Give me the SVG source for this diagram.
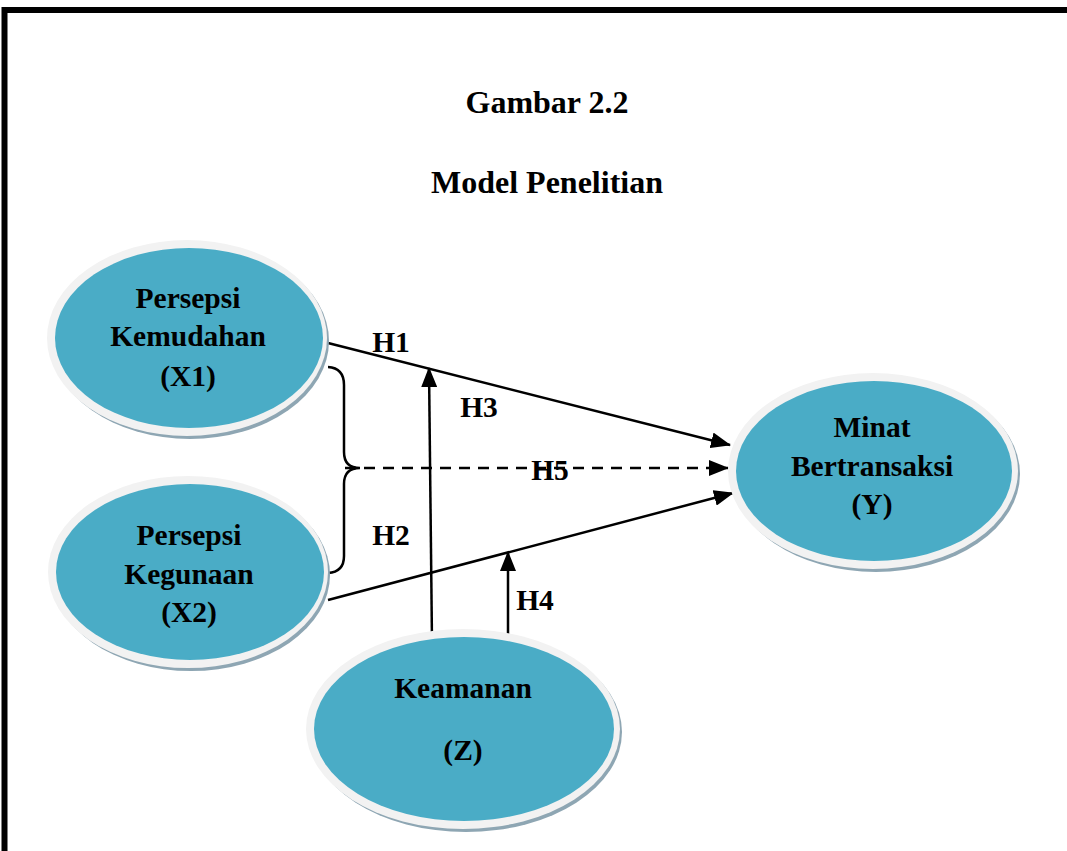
<svg xmlns="http://www.w3.org/2000/svg" width="1067" height="851" viewBox="0 0 1067 851">
<defs>
<style>
.t{font-family:"Liberation Serif","Times New Roman",serif;font-weight:bold;font-size:29.5px;fill:#000;text-anchor:middle}
.ti{font-size:32px}
.sh{fill:#8ea6b3}
.rim{fill:#f2f2f2}
.in{fill:#4aacc6}
.ln{stroke:#000;stroke-width:2.5;fill:none}
</style>
<marker id="a" markerWidth="20" markerHeight="16" refX="19" refY="8" orient="auto" markerUnits="userSpaceOnUse">
<path d="M0,0 L20,8 L0,16 z" fill="#000"/>
</marker>
</defs>
<rect x="0" y="0" width="1067" height="851" fill="#fff"/>
<path d="M4.5,851 V10 H1067" fill="none" stroke="#000" stroke-width="6"/>
<text class="t ti" x="547" y="113">Gambar 2.2</text>
<text class="t ti" x="547" y="193">Model Penelitian</text>

<g id="connectors">
<line class="ln" x1="328" y1="343" x2="730" y2="445" marker-end="url(#a)"/>
<line class="ln" x1="328" y1="600" x2="733" y2="493" marker-end="url(#a)"/>
<line class="ln" x1="345" y1="468" x2="728" y2="468" stroke-dasharray="11,8" marker-end="url(#a)"/>
<path class="ln" d="M328,367 Q344,368 344,385 V452 Q344,468 360,468 Q344,468 344,484 V556 Q344,572 328,573"/>
<line class="ln" x1="432" y1="642" x2="429" y2="368" marker-end="url(#a)"/>
<line class="ln" x1="508" y1="642" x2="508" y2="552" marker-end="url(#a)"/>
<text class="t" x="391" y="352">H1</text>
<text class="t" x="479" y="417">H3</text>
<text class="t" x="550" y="480">H5</text>
<text class="t" x="391" y="545">H2</text>
<text class="t" x="535" y="610">H4</text>
</g>

<g id="x1">
<ellipse class="sh" cx="190" cy="341" rx="139" ry="98"/>
<ellipse class="rim" cx="187" cy="338" rx="140" ry="98"/>
<ellipse class="in" cx="189" cy="338" rx="134" ry="90"/>
<text class="t" x="188" y="308">Persepsi</text>
<text class="t" x="188" y="346">Kemudahan</text>
<text class="t" x="188" y="386">(X1)</text>
</g>

<g id="x2">
<ellipse class="sh" cx="191" cy="575" rx="139" ry="96"/>
<ellipse class="rim" cx="188" cy="572" rx="140" ry="96"/>
<ellipse class="in" cx="190" cy="572" rx="134" ry="88"/>
<text class="t" x="189" y="545">Persepsi</text>
<text class="t" x="189" y="584">Kegunaan</text>
<text class="t" x="189" y="622">(X2)</text>
</g>

<g id="y">
<ellipse class="sh" cx="876" cy="474" rx="144" ry="98"/>
<ellipse class="rim" cx="873" cy="471" rx="145" ry="98"/>
<ellipse class="in" cx="874" cy="471" rx="138" ry="90"/>
<text class="t" x="872" y="437">Minat</text>
<text class="t" x="872" y="476">Bertransaksi</text>
<text class="t" x="872" y="514">(Y)</text>
</g>

<g id="z">
<ellipse class="sh" cx="466" cy="732" rx="156" ry="100"/>
<ellipse class="rim" cx="463" cy="729" rx="157" ry="100"/>
<ellipse class="in" cx="464" cy="729" rx="150" ry="92"/>
<text class="t" x="463" y="698">Keamanan</text>
<text class="t" x="463" y="760">(Z)</text>
</g>
</svg>
